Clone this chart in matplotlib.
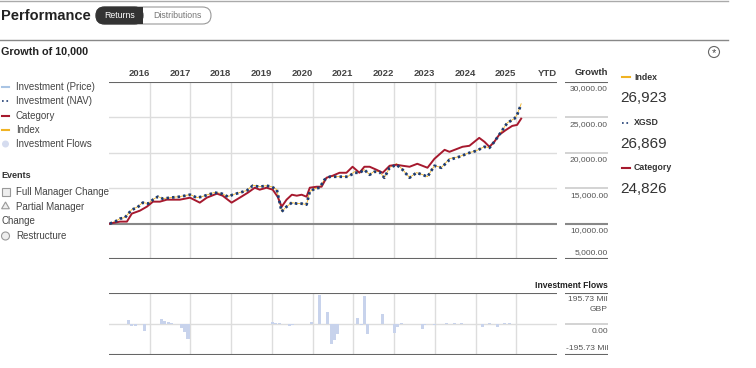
import matplotlib
matplotlib.use('Agg')
import numpy as np
import matplotlib.pyplot as plt
from matplotlib.patches import FancyBboxPatch, Rectangle, Circle, RegularPolygon

plt.rcParams['font.family'] = ['Liberation Sans Narrow', 'Liberation Sans', 'DejaVu Sans']

W, H = 756, 368

# 数据 (x 为列位置, 每年一列)
years = ['2016', '2017', '2018', '2019', '2020', '2021', '2022', '2023', '2024', '2025', 'YTD']
growth_ticks = [30000, 25000, 20000, 15000, 10000, 5000]

nav_x = [2016.02, 2016.15, 2016.27, 2016.39, 2016.56, 2016.69, 2016.83, 2016.96,
         2017.08, 2017.20, 2017.32, 2017.50, 2017.74, 2017.99,
         2018.16, 2018.28, 2018.43, 2018.60, 2018.77, 2018.92,
         2019.04, 2019.21, 2019.38, 2019.53, 2019.70, 2019.87, 2019.99,
         2020.12, 2020.24, 2020.36, 2020.49, 2020.61, 2020.73, 2020.85, 2020.93,
         2021.05, 2021.17, 2021.29, 2021.42, 2021.59, 2021.74, 2021.86,
         2022.03, 2022.15, 2022.27, 2022.40, 2022.52, 2022.64, 2022.76, 2022.89,
         2023.06, 2023.21, 2023.38, 2023.55, 2023.70, 2023.82, 2023.99,
         2024.16, 2024.36, 2024.60, 2024.85,
         2025.02, 2025.22, 2025.34, 2025.46, 2025.63, 2025.78, 2025.95,
         2026.02, 2026.12]
nav = [10000, 10280, 10700, 10840, 11970, 12250, 12960, 12820,
       13380, 13800, 13520, 13660, 13800, 14080,
       13660, 13800, 14080, 14370, 14230, 13800,
       14080, 14370, 14650, 15350, 15210, 15350, 15210,
       14790, 11690, 12390, 12960, 12820, 12820, 12680, 14510,
       14930, 15070, 16200, 16620, 16620, 16620, 16620,
       17180, 17180, 17600, 16900, 17320, 17320, 16480, 17890,
       18310, 17600, 16480, 17180, 16900, 16620, 18170,
       17890, 19010, 19440, 20000,
       20280, 20850, 20700, 21550, 22960, 24230, 24790,
       25350, 26869]
index = [10000, 10290, 10710, 10850, 11990, 12330, 12980, 12830,
         13400, 13830, 13530, 13670, 13820, 14100,
         13670, 13810, 14100, 14420, 14240, 13810,
         14090, 14390, 14670, 15430, 15220, 15360, 15220,
         14810, 11700, 12400, 12970, 12830, 12830, 12690, 14530,
         14950, 15090, 16220, 16640, 16630, 16640, 16630,
         17330, 17200, 17620, 16920, 17420, 17340, 16490, 17910,
         18480, 17620, 16500, 17200, 16910, 16630, 18190,
         17900, 19180, 19460, 20020,
         20300, 20870, 20710, 21570, 22980, 24250, 24810,
         25380, 26923]

cat_x = [2016.02, 2016.27, 2016.44, 2016.56, 2016.76, 2016.93,
         2017.08, 2017.25, 2017.42, 2017.57, 2017.74, 2017.99,
         2018.23, 2018.40, 2018.65, 2018.79,
         2019.01, 2019.21, 2019.41, 2019.58, 2019.70, 2019.87,
         2020.02, 2020.14, 2020.24, 2020.36, 2020.49, 2020.61, 2020.73, 2020.85, 2020.93,
         2021.10, 2021.22, 2021.34, 2021.49, 2021.66, 2021.83, 2021.98,
         2022.15, 2022.27, 2022.40, 2022.57, 2022.72, 2022.89,
         2023.06, 2023.21, 2023.38, 2023.57, 2023.82, 2023.99,
         2024.24, 2024.36, 2024.68, 2024.85, 2024.97,
         2025.09, 2025.22, 2025.34, 2025.46, 2025.58, 2025.75, 2025.90,
         2026.02, 2026.12]
category = [10000, 10280, 10280, 11410, 11830, 12390,
            13100, 13100, 13380, 13380, 13380, 13660,
            12960, 13660, 14230, 13940,
            12960, 13660, 14370, 15070, 14790, 15070,
            14790, 13800, 12390, 13380, 14080, 13940, 14080, 13800, 15070,
            15210, 15210, 16480, 16760, 17180, 17180, 18030,
            17180, 18030, 18030, 17600, 17180, 18170,
            18310, 18170, 18030, 18450, 17890, 19150,
            20420, 20140, 20850, 20990, 21550,
            22110, 21550, 20850, 21550, 22540, 23240, 23800,
            23940, 24826]

flow_x = [2016.07, 2016.22, 2016.27, 2016.47, 2016.56, 2016.64, 2016.88,
          2017.30, 2017.37, 2017.45, 2017.54, 2017.79, 2017.86, 2017.94,
          2018.50, 2019.28,
          2020.02, 2020.09, 2020.19, 2020.44, 2020.51, 2020.98,
          2021.17, 2021.37, 2021.47, 2021.54, 2021.61,
          2022.10, 2022.20, 2022.27, 2022.35, 2022.72,
          2023.01, 2023.08, 2023.18, 2023.70, 2023.75, 2023.99,
          2024.28, 2024.48, 2024.65, 2024.85,
          2025.09, 2025.17, 2025.34, 2025.53, 2025.70, 2025.83]
flows = [3, 2, 3, 26, -13, -10, -45,
         32, 19, 10, 6, -25, -50, -95,
         2, -3,
         13, 8, 4, -10, -8, 13,
         183, 75, -125, -100, -63,
         38, -5, 176, -63, 63,
         -56, -20, 4, -31, -8, -6,
         4, 5, 4, 3,
         3, -16, 4, -20, 5, 4]
flow_max = 195.73

last_values = {'Index': '26,923', 'XGSD': '26,869', 'Category': '24,826'}

# 颜色
RED = '#a6192e'
NAVY = '#1f3d73'
YELLOW = '#f0b323'
LIGHTBLUE = '#a9c4e4'
FLOWBLUE = '#c8d3ec'
GRID = '#dddddd'
TXT = '#444444'


def fx(x):
    return x / W


def fy(y):
    return 1 - y / H


fig = plt.figure(figsize=(W / 100, H / 100), dpi=100)

# 装饰层 (像素坐标)
deco = fig.add_axes([0, 0, 1, 1], zorder=0)
deco.set_xlim(0, W)
deco.set_ylim(H, 0)
deco.axis('off')

deco.plot([0, 728], [1, 1], color='#aaaaaa', lw=1)
deco.text(1, 16, 'Performance', fontsize=10.5, fontweight='bold', va='center', color='#222222')
deco.add_patch(FancyBboxPatch((96, 7), 115, 17, boxstyle='round,pad=0,rounding_size=8.5',
                              facecolor='white', edgecolor='#999999', lw=0.8))
deco.add_patch(FancyBboxPatch((96, 7), 47, 17, boxstyle='round,pad=0,rounding_size=8.5',
                              facecolor='#333333', edgecolor='#333333', lw=0.8))
deco.add_patch(Rectangle((128, 7), 15, 17, facecolor='#333333', edgecolor='none'))
deco.text(120, 15.5, 'Returns', fontsize=6.3, color='white', ha='center', va='center')
deco.text(177, 15.5, 'Distributions', fontsize=6.3, color='#777777', ha='center', va='center')
deco.plot([0, 728], [40, 40], color='#888888', lw=1)
deco.text(1, 52, 'Growth of 10,000', fontsize=7.8, fontweight='bold', va='center', color='#222222')
deco.add_patch(Circle((714, 52), 5.5, facecolor='white', edgecolor='#666666', lw=0.8))
deco.text(714, 53.5, '*', fontsize=8, ha='center', va='center', color='#444444')

# 左侧图例
leg_items = [('Investment (Price)', LIGHTBLUE, '-'), ('Investment (NAV)', NAVY, ':'),
             ('Category', RED, '-'), ('Index', YELLOW, '-')]
for i, (lab, col, ls) in enumerate(leg_items):
    y = 87 + i * 14.3
    deco.plot([2, 9], [y, y], color=col, lw=1.5 if ls == '-' else 1.2, ls=ls)
    deco.text(16, y, lab, fontsize=7, va='center', color=TXT)
deco.add_patch(Circle((5.5, 144), 3.5, facecolor='#d5dcef', edgecolor='none'))
deco.text(16, 144, 'Investment Flows', fontsize=7, va='center', color=TXT)

deco.text(1, 176, 'Events', fontsize=6.5, fontweight='bold', va='center', color='#333333')
deco.add_patch(Rectangle((1.5, 188), 8, 8, facecolor='#eeeeee', edgecolor='#999999', lw=0.8))
deco.text(16, 192, 'Full Manager Change', fontsize=7, va='center', color=TXT)
deco.add_patch(RegularPolygon((5.5, 206.5), 3, radius=4.5, facecolor='#eeeeee',
                              edgecolor='#999999', lw=0.8, orientation=np.pi))
deco.text(16, 207, 'Partial Manager', fontsize=7, va='center', color=TXT)
deco.text(1, 221, 'Change', fontsize=7, va='center', color=TXT)
deco.add_patch(Circle((5.5, 236), 4, facecolor='#eeeeee', edgecolor='#999999', lw=0.8))
deco.text(16, 236, 'Restructure', fontsize=7, va='center', color=TXT)

# 右侧最新值
right_items = [('Index', YELLOW, '-'), ('XGSD', NAVY, ':'), ('Category', RED, '-')]
for i, (lab, col, ls) in enumerate(right_items):
    y = 77 + i * 45.5
    deco.plot([622, 630], [y, y], color=col, lw=1.5 if ls == '-' else 1.2, ls=ls)
    deco.text(634, y, lab, fontsize=6.3, fontweight='bold', va='center', color='#333333')
    deco.text(620, y + 21, last_values[lab], fontsize=11, va='center', color='#333333')

# 主图
x0, x1 = 2016, 2027
ax = fig.add_axes([fx(109), fy(259), fx(557) - fx(109), fy(82) - fy(259)], zorder=2)
ax.patch.set_alpha(0)
ax.set_xlim(x0, x1)
ax.set_ylim(5000, 30000)
for s in ax.spines.values():
    s.set_visible(False)
ax.set_xticks([])
ax.set_yticks([])
for yr in range(2017, 2027):
    ax.axvline(yr, color=GRID, lw=1, zorder=0)
for v in growth_ticks:
    if v in (30000, 5000):
        ax.axhline(v, color='#666666', lw=1.5, zorder=1)
    elif v == 10000:
        ax.axhline(v, color='#888888', lw=1.5, zorder=1)
    else:
        ax.axhline(v, color=GRID, lw=1, zorder=0)
for i, lab in enumerate(years):
    ax.text(x0 + i + 1, 30600, lab, fontsize=6.8, fontweight='bold', color=TXT,
            ha='right', va='bottom')

ax.plot(nav_x, index, color=YELLOW, lw=0.6, zorder=3)
ax.plot(cat_x, category, color=RED, lw=1.4, zorder=4)
ax.plot(nav_x, nav, color=NAVY, lw=2.0, ls=(0, (0.9, 1.1)), zorder=5)

# 右侧刻度列
axr = fig.add_axes([fx(565), fy(259), fx(608) - fx(565), fy(82) - fy(259)], zorder=2)
axr.patch.set_alpha(0)
axr.set_xlim(0, 1)
axr.set_ylim(5000, 30000)
axr.axis('off')
for v in growth_ticks:
    if v in (30000, 5000):
        axr.axhline(v, color='#666666', lw=1.5)
    elif v == 10000:
        axr.axhline(v, color='#888888', lw=1.5)
    else:
        axr.axhline(v, color='#cccccc', lw=1.2)
    if v == 5000:
        axr.text(1, v + 400, f'{v:,.2f}', fontsize=6.1, color='#555555', ha='right', va='bottom')
    else:
        axr.text(1, v - 500, f'{v:,.2f}', fontsize=6.1, color='#555555', ha='right', va='top')
axr.text(1, 30000 + 700, 'Growth', fontsize=6.8, fontweight='bold', color='#333333',
         ha='right', va='bottom')

# 资金流
axf = fig.add_axes([fx(109), fy(355), fx(557) - fx(109), fy(293) - fy(355)], zorder=2)
axf.patch.set_alpha(0)
axf.set_xlim(x0, x1)
axf.set_ylim(-flow_max, flow_max)
for s in axf.spines.values():
    s.set_visible(False)
axf.set_xticks([])
axf.set_yticks([])
for yr in range(2017, 2027):
    axf.axvline(yr, color=GRID, lw=1, zorder=0)
axf.axhline(flow_max, color='#666666', lw=1.5)
axf.axhline(-flow_max, color='#666666', lw=1.5)
axf.axhline(0, color='#dddddd', lw=1, zorder=1)
axf.bar(flow_x, flows, width=0.075, color=FLOWBLUE, zorder=2)

axfr = fig.add_axes([fx(565), fy(355), fx(608) - fx(565), fy(293) - fy(355)], zorder=2)
axfr.patch.set_alpha(0)
axfr.set_xlim(0, 1)
axfr.set_ylim(-flow_max, flow_max)
axfr.axis('off')
axfr.axhline(flow_max, color='#666666', lw=1.5)
axfr.axhline(0, color='#cccccc', lw=1.2)
axfr.axhline(-flow_max, color='#666666', lw=1.5)
axfr.text(1, flow_max + 20, 'Investment Flows', fontsize=6.2, fontweight='bold', color='#222222',
          ha='right', va='bottom')
axfr.text(1, flow_max - 20, f'{flow_max:.2f} Mil\nGBP', fontsize=6.1, color='#555555',
          ha='right', va='top', linespacing=1.6)
axfr.text(1, -25, '0.00', fontsize=6.1, color='#555555', ha='right', va='top')
axfr.text(1, -flow_max + 20, f'-{flow_max:.2f} Mil', fontsize=6.1, color='#555555',
          ha='right', va='bottom')

fig.savefig('out.png', dpi=100)
